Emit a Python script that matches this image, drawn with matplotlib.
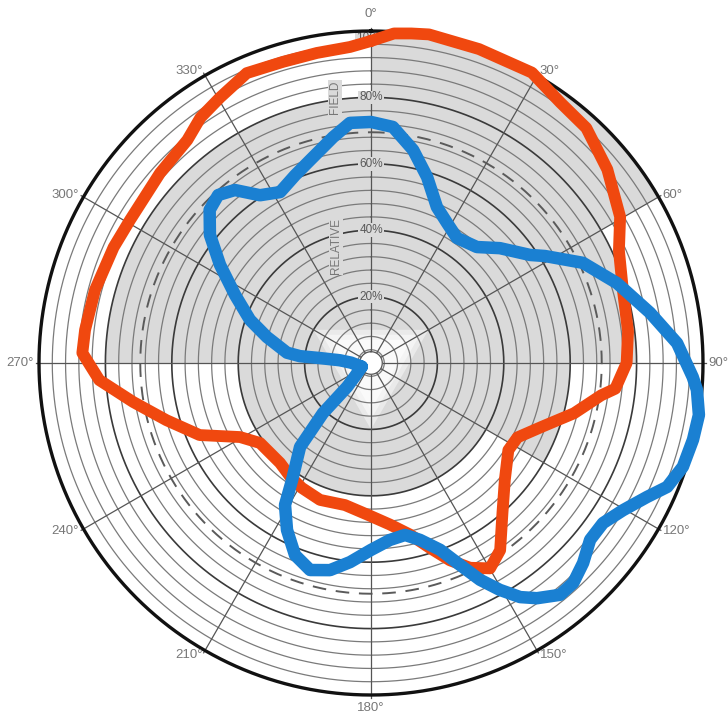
import numpy as np
import matplotlib
matplotlib.use("Agg")
import matplotlib.pyplot as plt
from matplotlib.patches import Polygon

plt.rcParams['font.family'] = ['Liberation Sans', 'DejaVu Sans']

# ---------------- data ----------------
angle_ticks = [0, 30, 60, 90, 120, 150, 180, 210, 240, 270, 300, 330]
angle_labels = ["0°", "30°", "60°", "90°", "120°", "150°", "180°",
                "210°", "240°", "270°", "300°", "330°"]
ring_values = [20, 40, 60, 80, 100]
ring_labels = ["20%", "40%", "60%", "80%", "100%"]

orange_deg = [0, 4, 7, 10, 19, 29, 36, 42.5, 50.7, 59.6, 65.6, 73.8, 83, 90,
              96, 98, 103.9, 110.4, 116.9, 122.4, 131.1, 138.7, 145.4, 149.9,
              154.2, 158.2, 162.3, 167.2, 173.3, 180.4, 190.4, 200.4, 209,
              215.4, 222.3, 234.2, 240.5, 247.2, 254.4, 260.7, 266.4, 272,
              276.6, 284.8, 294.2, 300.7, 312, 320.5, 325.2, 330.4, 336.8,
              343.7, 350.1, 356.2]
orange_r = [97, 99.5, 100, 100.5, 100, 100, 97, 96, 92, 87, 82, 79, 78, 77,
            74, 70, 63, 55, 49.5, 49, 53.5, 60, 68.5, 71.5,
            68.5, 64, 58.5, 53, 49, 46, 43.5, 44, 43,
            42, 40.7, 41.2, 45.3, 56, 64, 72.6, 82, 87,
            86.7, 86, 85, 84.4, 85.5, 87, 90, 92, 95,
            94.5, 94.8, 95.4]

blue_deg = [248, 262, 271, 275, 275.5, 275.5, 277, 284, 289.6, 296.6, 303,
            308.5, 313.5, 317.7, 321.8, 326.5, 332, 338, 343.3, 350.5, 355,
            0, 5.3, 11.2, 16.8, 22.9, 28.5, 34.5, 42.4, 48.3, 55.8, 58.4, 64.7,
            72, 79.8, 86.3, 92.5, 94.7, 99, 103.4, 108.4, 112.7, 115.9, 120.3,
            124.6, 128.9, 133.3, 137.4, 140.8, 144.8, 147.5, 150.4, 153.3,
            156.2, 159.7, 164.5, 168.8, 173.9, 180, 186, 191.2, 196.4, 201.6,
            206.7, 211.2, 214, 220.2, 223.8, 225, 229.7, 248]
blue_r = [3, 4.2, 6, 9.4, 15.4, 21.5, 25.5, 32.3, 38.7, 45.8, 54.2,
          62, 67, 68.4, 66.3, 60.6, 58.3, 61, 63.8, 69, 72.6,
          72.6, 71.4, 65.4, 58.5, 51, 48, 45.7, 47.3, 52, 57.9, 61.5, 70.6,
          77.9, 85.4, 92.4, 97, 98.5, 100, 99.7, 99, 96.7, 92.4, 87.9,
          84.9, 84.8, 87.8, 90, 90.1, 86.7, 83.6, 78.6, 73.1,
          66.5, 60, 55.3, 52.8, 53.6, 56.3, 60.3, 63.6, 65, 62.2,
          56.3, 50, 42.5, 33.1, 20.9, 10.2, 6.5, 3]

# ---------------- figure ----------------
W, H = 728, 721
fig = plt.figure(figsize=(W / 100, H / 100), dpi=100)
fig.patch.set_facecolor("white")
cx, cy, R = 371, 363, 332
ax = fig.add_axes([(cx - R) / W, (H - cy - R) / H, 2 * R / W, 2 * R / H],
                  projection="polar")
ax.set_theta_zero_location("N")
ax.set_theta_direction(-1)
ax.set_ylim(0, 100)
ax.grid(False)
ax.set_xticks([])
ax.set_yticks([])
ax.spines["polar"].set_visible(False)
ax.set_facecolor("white")

GRAY = "#dadada"


def sector(t0, t1, r):
    th = np.radians(np.linspace(t0, t1, 120))
    ax.fill(np.r_[th, th[::-1]], np.r_[np.full(th.size, r), np.zeros(th.size)],
            color=GRAY, lw=0, zorder=0.5)


sector(0, 60, 100)
sector(270, 360, 80)
sector(60, 90, 80)
sector(90, 120, 60)
sector(0, 360, 40)

# white fading triangle near the centre (axes coords)
def to_axes(deg, r):
    t = np.radians(deg)
    return 0.5 + 0.5 * r / 100 * np.sin(t), 0.5 + 0.5 * r / 100 * np.cos(t)

for scale, alpha in ((20, 0.45), (17, 0.5), (14, 0.6)):
    tri = [to_axes(d, scale) for d in (300, 60, 180)]
    ax.add_patch(Polygon(tri, closed=True, transform=ax.transAxes,
                         facecolor="white", edgecolor="none", alpha=alpha,
                         zorder=0.6))

# rings
th = np.linspace(0, 2 * np.pi, 721)
for rv in range(4, 100, 4):
    if rv % 20 == 0:
        ax.plot(th, np.full_like(th, rv), color="#3a3a3a", lw=1.2, zorder=1)
    else:
        ax.plot(th, np.full_like(th, rv), color="#7a7a7a", lw=0.9, zorder=1)
ax.plot(th, np.full_like(th, 69.5), color="#5a5a5a", lw=1.4,
        dashes=(7, 5), zorder=1)
ax.plot(th, np.full_like(th, 100), color="#111111", lw=2.4, zorder=3,
        clip_on=False)

# radial spokes
for a in angle_ticks:
    ax.plot([np.radians(a)] * 2, [3.5, 100.8], color="#555555", lw=0.9,
            zorder=1, clip_on=False)

# centre disc
ax.fill(th, np.full_like(th, 3.4), color="white", lw=0, zorder=1.5)
ax.plot(th, np.full_like(th, 3.4), color="#555555", lw=0.9, zorder=1.6)

# curves
to = np.unwrap(np.radians(orange_deg + orange_deg[:1]))
ax.plot(to, orange_r + orange_r[:1], color="#f0480f", lw=8.5,
        solid_joinstyle="round", solid_capstyle="round", zorder=4, clip_on=False)
tb = np.unwrap(np.radians(blue_deg))
ax.plot(tb, blue_r, color="#1a80d2", lw=9,
        solid_joinstyle="round", solid_capstyle="round", zorder=5, clip_on=False)

# ring labels along 0 deg
for rv, lab in zip(ring_values, ring_labels):
    rr = rv - 2 if rv == 100 else rv
    ax.text(0, rr, lab, ha="center", va="center", fontsize=8.5, color="#5a5a5a",
            zorder=2, bbox=dict(facecolor=GRAY, edgecolor="none", pad=0.6))

# FIELD / RELATIVE
ax.text(np.radians(-7.7), 80.8, "FIELD", rotation=90, ha="center", va="center",
        fontsize=8.5, color="#777777", zorder=2,
        bbox=dict(facecolor=GRAY, edgecolor="none", pad=0.6))
ax.text(np.radians(-16.7), 36.8, "RELATIVE", rotation=90, ha="center",
        va="center", fontsize=8.5, color="#777777", zorder=2,
        bbox=dict(facecolor=GRAY, edgecolor="none", pad=0.6))

# angle labels
fs = 9.5
for a, lab in zip(angle_ticks, angle_labels):
    t = np.radians(a)
    if a == 0:
        ax.text(t, 105, lab, ha="center", va="center", fontsize=fs,
                color="#777777", clip_on=False)
    elif a == 180:
        ax.text(t, 104, lab, ha="center", va="center", fontsize=fs,
                color="#777777", clip_on=False)
    elif a < 180:
        ax.text(t, 101.5, lab, ha="left", va="center", fontsize=fs,
                color="#777777", clip_on=False)
    else:
        ax.text(t, 101.5, lab, ha="right", va="center", fontsize=fs,
                color="#777777", clip_on=False)

fig.savefig("out.png", dpi=100, facecolor="white")
